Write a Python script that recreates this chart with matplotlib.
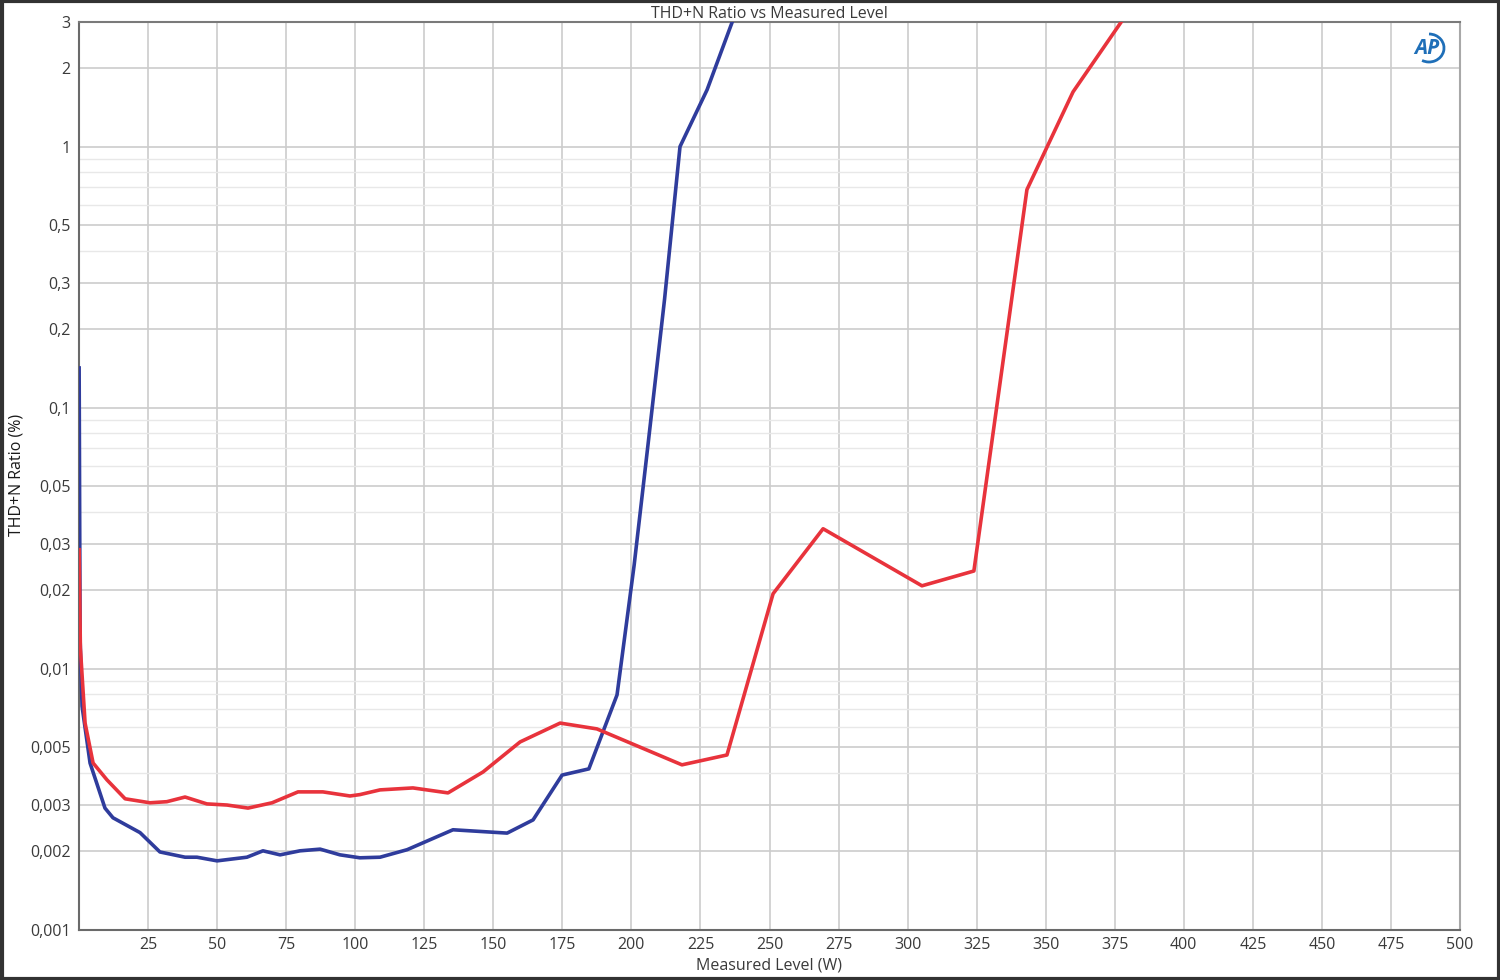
import matplotlib
matplotlib.use("Agg")
import matplotlib.pyplot as plt
from matplotlib.ticker import FixedLocator, NullFormatter
from matplotlib.patches import Rectangle, Arc

plt.rcParams['font.family'] = ['Open Sans', 'DejaVu Sans']

# Data (Measured Level in W, THD+N in %)
blue_w = [0.05, 0.4, 1.1, 4.0, 9.4, 12.3, 22.1, 29.3, 38.4, 42.7, 50.0, 60.8, 66.6, 72.8,
          80.0, 87.3, 94.5, 101.7, 109.0, 118.8, 135.4, 155.0, 164.4, 174.9, 184.6, 194.8,
          201.0, 206.0, 212.0, 217.6, 227.4, 237.0]
blue_v = [0.142, 0.013, 0.0072, 0.00436, 0.00293, 0.00269, 0.00236, 0.00199, 0.0019, 0.0019,
          0.00184, 0.0019, 0.00201, 0.00194, 0.00201, 0.00204, 0.00194, 0.00189, 0.0019,
          0.00203, 0.00242, 0.00235, 0.00264, 0.00392, 0.00414, 0.00795, 0.025, 0.072,
          0.26, 1.0, 1.65, 3.1]

red_w = [0.05, 0.5, 2.2, 5.1, 10.1, 16.7, 25.7, 31.8, 38.4, 46.3, 53.6, 61.2, 69.9, 79.3,
         88.3, 98.1, 101.7, 109.0, 120.9, 133.6, 146.3, 159.7, 174.2, 187.5, 218.3, 234.6,
         251.3, 269.4, 305.2, 324.0, 343.2, 359.9, 377.8]
red_v = [0.0286, 0.012, 0.0062, 0.00436, 0.00376, 0.00318, 0.00307, 0.0031, 0.00323, 0.00304,
         0.00301, 0.00293, 0.00307, 0.00338, 0.00338, 0.00326, 0.0033, 0.00344, 0.0035,
         0.00335, 0.00403, 0.00525, 0.0062, 0.00589, 0.00429, 0.00468, 0.0194, 0.0344,
         0.0208, 0.0237, 0.684, 1.62, 3.05]

x_ticks = [25, 50, 75, 100, 125, 150, 175, 200, 225, 250, 275, 300, 325, 350, 375, 400,
           425, 450, 475, 500]
y_ticks = [0.001, 0.002, 0.003, 0.005, 0.01, 0.02, 0.03, 0.05, 0.1, 0.2, 0.3, 0.5, 1, 2, 3]
y_labels = ["0,001", "0,002", "0,003", "0,005", "0,01", "0,02", "0,03", "0,05", "0,1",
            "0,2", "0,3", "0,5", "1", "2", "3"]

fig = plt.figure(figsize=(15, 9.8), dpi=100)
ax = fig.add_axes([79/1500, 50/980, (1460-79)/1500, (930-22)/980])

ax.set_yscale('log')
ax.set_xlim(0, 500)
ax.set_ylim(0.001, 3)

minor_vals = []
for dec in [0.001, 0.01, 0.1, 1]:
    for m in range(2, 10):
        v = dec * m
        if v < 3 and all(abs(v - t) > 1e-12 for t in y_ticks):
            minor_vals.append(v)

ax.yaxis.set_major_locator(FixedLocator(y_ticks))
ax.set_yticklabels(y_labels)
ax.yaxis.set_minor_locator(FixedLocator(minor_vals))
ax.yaxis.set_minor_formatter(NullFormatter())
ax.xaxis.set_major_locator(FixedLocator(x_ticks))
ax.set_xticklabels([str(t) for t in x_ticks])

ax.grid(True, which='major', color='#cccccc', linewidth=1.2)
ax.grid(True, which='minor', axis='y', color='#e8e8e8', linewidth=1.0)
ax.set_axisbelow(True)

ax.tick_params(axis='both', which='both', length=0, labelsize=11.5, labelcolor='#3a3a3a')
ax.tick_params(axis='y', pad=6)
ax.tick_params(axis='x', pad=5)

for s in ['left', 'bottom']:
    ax.spines[s].set_color('#6a6a6a')
    ax.spines[s].set_linewidth(1.5)
ax.spines['top'].set_color('#7a7a7a')
ax.spines['top'].set_linewidth(1.5)
ax.spines['right'].set_color('#a8a8a8')
ax.spines['right'].set_linewidth(1.5)

ax.plot(blue_w, blue_v, color='#2f3c9c', linewidth=2.6, solid_joinstyle='round', zorder=3)
ax.plot(red_w, red_v, color='#e8333c', linewidth=2.6, solid_joinstyle='round', zorder=3)

ax.set_xlabel("Measured Level (W)", fontsize=11.5, color='#3a3a3a', labelpad=3)
ax.set_ylabel("THD+N Ratio (%)", fontsize=11.5, color='#1a1a1a')
ax.yaxis.set_label_coords(-0.0395, 0.501)
ax.set_title("THD+N Ratio vs Measured Level", fontsize=11.5, color='#3a3a3a', pad=2)

# AP logo
fig.text(1427/1500, 1 - 48/980, "AP", fontsize=15, fontweight='bold', style='italic',
         color='#1f6fb8', ha='center', va='center')
fig.add_artist(Arc((1429/1500, 1 - 48/980), 30/1500, 28/980, theta1=-110, theta2=90,
                   color='#1f6fb8', linewidth=2, transform=fig.transFigure))

# outer frame
fig.add_artist(Rectangle((0.001, 0.001), 0.998, 0.998, transform=fig.transFigure,
                         fill=False, edgecolor='#333333', linewidth=3))

fig.savefig("out.png", dpi=100)
